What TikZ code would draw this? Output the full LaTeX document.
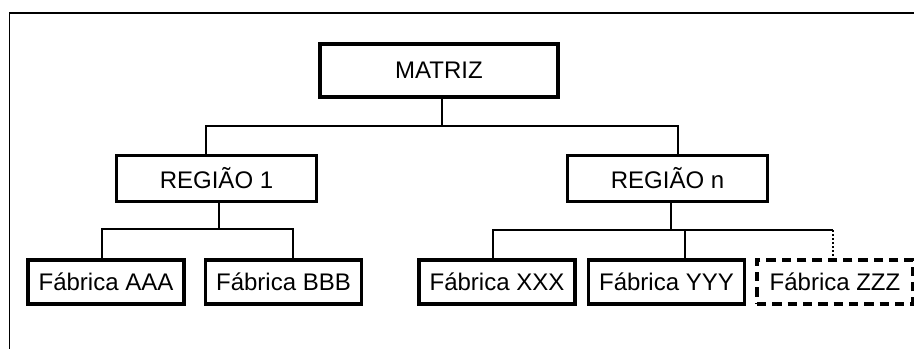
\documentclass[tikz,border=0pt]{standalone}
\usepackage{fontspec}
\setmainfont{Liberation Sans}
\begin{document}
\begin{tikzpicture}[x=0.75pt,y=-0.75pt,
  box/.style={draw=black,line width=2.6pt,fill=white,inner sep=0pt,
    font=\fontsize{18}{21}\selectfont,text=black},
  top/.style={box,minimum width=238*0.75pt,minimum height=53*0.75pt},
  reg/.style={box,minimum width=200*0.75pt,minimum height=46*0.75pt},
  fab/.style={box,minimum width=156*0.75pt,minimum height=44*0.75pt},
  optbox/.style={fab,dash pattern=on 7pt off 4.5pt},
  conn/.style={draw=black,line width=0.8pt},
  optconn/.style={conn,dash pattern=on 1.5pt off 1.5pt},
  frame/.style={draw=black,line width=1.4pt}]
\useasboundingbox (0,0) rectangle (914,349);
\coordinate (fa) at (9.5,349);
\coordinate (fb) at (9.5,13);
\coordinate (fc) at (914,13);
\draw[frame] (fa) -- (fb) -- (fc);
\coordinate (bus1) at (0,126);
\coordinate (bus2) at (0,229);
\coordinate (bus3) at (0,230);
\node[top] (m) at (439,70.5) {MATRIZ};
\node[reg] (r1) at (216.5,178.5) {REGIÃO 1};
\node[reg] (rn) at (667.5,178.5) {REGIÃO n};
\node[fab] (aaa) at (106,282) {Fábrica AAA};
\node[fab] (bbb) at (283.5,282) {Fábrica BBB};
\node[fab] (xxx) at (497,282) {Fábrica XXX};
\node[fab] (yyy) at (666.5,282) {Fábrica YYY};
\node[optbox] (zzz) at (835,282) {Fábrica ZZZ};
% level 1
\draw[conn] ([xshift=2.25pt]m.south) -- ([xshift=2.25pt]m.south |- bus1);
\draw[conn] ([xshift=-7.875pt]r1.north) -- ([xshift=-7.875pt]r1.north |- bus1)
  -- ([xshift=7.875pt]rn.north |- bus1) -- ([xshift=7.875pt]rn.north);
% level 2 left
\draw[conn] ([xshift=1.875pt]r1.south) -- ([xshift=1.875pt]r1.south |- bus2);
\draw[conn] ([xshift=-3pt]aaa.north) -- ([xshift=-3pt]aaa.north |- bus2)
  -- ([xshift=7.125pt]bbb.north |- bus2) -- ([xshift=7.125pt]bbb.north);
% level 2 right
\draw[conn] ([xshift=2.625pt]rn.south) -- ([xshift=2.625pt]rn.south |- bus3);
\draw[conn] ([xshift=-3pt]xxx.north) -- ([xshift=-3pt]xxx.north |- bus3)
  -- ([xshift=-1.5pt]zzz.north |- bus3);
\draw[conn] ([xshift=13.875pt]yyy.north) -- ([xshift=13.875pt]yyy.north |- bus3);
\draw[optconn] ([xshift=-1.5pt]zzz.north |- bus3) -- ([xshift=-1.5pt]zzz.north);
\end{tikzpicture}
\end{document}
